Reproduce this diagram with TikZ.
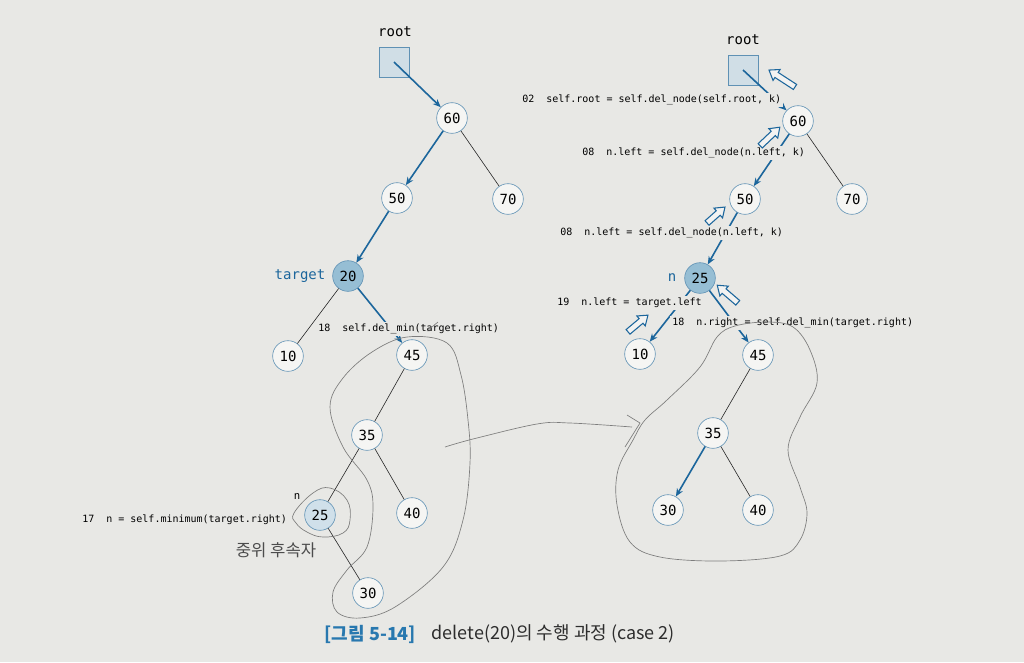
\documentclass[tikz,border=0pt]{standalone}
\usepackage{fontspec}
\setmainfont{Noto Sans CJK KR}
\setmonofont{DejaVu Sans Mono}
\newfontfamily\krfont{Noto Sans CJK KR}
\usetikzlibrary{arrows.meta}

\definecolor{paper}{RGB}{232,232,229}
\definecolor{lineblue}{RGB}{28,102,156}
\definecolor{rimblue}{RGB}{95,145,180}
\definecolor{darkfill}{RGB}{150,190,212}
\definecolor{lightfill}{RGB}{208,224,234}
\definecolor{boxfill}{RGB}{208,222,230}
\definecolor{pencil}{RGB}{125,125,125}
\definecolor{captext}{RGB}{45,45,45}
\definecolor{capblue}{RGB}{40,120,175}

\tikzset{
  bnode/.style={circle, draw=rimblue, fill=white!55!paper, line width=0.45pt,
    minimum size=23pt, inner sep=0pt, font=\ttfamily\fontsize{10.5}{12}\selectfont},
  rootbox/.style={draw=rimblue, fill=boxfill, minimum size=22.5pt, inner sep=0pt, line width=0.5pt},
  code/.style={font=\ttfamily\fontsize{7.5}{9}\selectfont, anchor=west, fill=paper, inner sep=1.5pt},
  tag/.style={font=\ttfamily\fontsize{10.5}{12}\selectfont},
  link/.style={line width=0.45pt, black!85},
  walk/.style={lineblue, line width=1.2pt, -{Stealth[length=6pt,width=5pt]}},
  sketch/.style={pencil, line width=0.5pt},
  note/.style={font=\krfont\fontsize{12.5}{14}\selectfont, text=black!70},
  % hollow arrow for a returned value, #1 = length
  uparrow/.pic={
    \draw[lineblue, fill=white!50!paper, line width=0.8pt, line join=miter]
      (-#1/2,-3) -- (#1/2-9,-3) -- (#1/2-9,-6.5) -- (#1/2,0) -- (#1/2-9,6.5)
      -- (#1/2-9,3) -- (-#1/2,3) -- cycle;
  }
}

\begin{document}
\begin{tikzpicture}[x=0.75pt, y=-0.75pt]
  % Paper and frame
  \fill[paper] (0,0) rectangle (1024,662);
  \useasboundingbox (0,0) rectangle (1024,662);

  % ---------- left tree: before deleting ----------
  \node[tag] (lroottxt) at (395,32) {root};
  \node[rootbox] (lroot) at (394,62) {};
  \foreach \name/\x/\y/\val in {l60/452/118/60, l50/397/198/50, l70/508/199/70,
      l10/288/356/10, l45/412/355/45, l35/367/435/35, l40/412/513/40, l30/368/593/30}
    \node[bnode] (\name) at (\x,\y) {\val};
  \node[bnode, fill=darkfill] (l20) at (348,276) {20};
  \node[bnode, fill=lightfill] (l25) at (320,515) {25};

  % search path
  \draw[walk] (lroot.center) -- (l60);
  \draw[walk] (l60) -- (l50);
  \draw[walk] (l50) -- (l20);
  \draw[walk] (l20) -- (l45);
  \foreach \a/\b in {l60/l70, l20/l10, l45/l35, l35/l25, l35/l40, l25/l30}
    \draw[link] (\a) -- (\b);

  % labels
  \node[tag, text=lineblue] (ltarget) at (300,276) {target};
  \node[code] (lc18) at (316,329) {18~~self.del\_min(target.right)};
  \node[code] (lc17) at (80,520) {17~~n = self.minimum(target.right)};
  \node[font=\ttfamily\fontsize{8}{9}\selectfont] (ln) at (297,496) {n};
  \node[note] (lsucc) at (276,550) {중위 후속자};

  % ---------- right tree: after deleting ----------
  \node[tag] (rroottxt) at (743,40) {root};
  \node[rootbox] (rroot) at (743,70) {};
  \foreach \name/\x/\y/\val in {r60/798/121/60, r50/745/199/50, r70/852/199/70,
      r10/640/354/10, r45/758/355/45, r35/713/433/35, r30/668/510/30, r40/758/510/40}
    \node[bnode] (\name) at (\x,\y) {\val};
  \node[bnode, fill=darkfill] (r25) at (700,278) {25};

  % calls going down
  \draw[walk] (rroot.center) -- (r60);
  \draw[walk] (r60) -- (r50);
  \draw[walk] (r50) -- (r25);
  \draw[walk] (r25) -- (r10);
  \draw[walk] (r25) -- (r45);
  \draw[walk] (r35) -- (r30);
  \foreach \a/\b in {r60/r70, r45/r35, r35/r40}
    \draw[link] (\a) -- (\b);

  % code lines
  \node[code] (rc02) at (520,100) {02~~self.root = self.del\_node(self.root, k)};
  \node[code] (rc08a) at (580,153) {08~~n.left = self.del\_node(n.left, k)};
  \node[code] (rc08b) at (558,233) {08~~n.left = self.del\_node(n.left, k)};
  \node[code] (rc19) at (555,303) {19~~n.left = target.left};
  \node[code] (rc18) at (670,323) {18~~n.right = self.del\_min(target.right)};
  \node[tag, text=lineblue] (rn) at (672,278) {n};

  % return values going up
  \pic[rotate=147] (up1) at (782,78.5) {uparrow=31};
  \pic[rotate=43.5] (up2) at (770,136.5) {uparrow=27};
  \pic[rotate=41.6] (up3) at (716,215) {uparrow=24};
  \pic[rotate=40] (up4) at (638,323.5) {uparrow=26};
  \pic[rotate=139.4] (up5) at (727.5,294) {uparrow=27};

  % pencil marks
  \draw[sketch] plot[smooth cycle, tension=0.6] coordinates {(407,337) (447,343) (461,375)
    (468,420) (470,463) (463,520) (443,567) (395,607) (360,618) (337,612) (333,592)
    (347,570) (367,547) (373,507) (367,480) (343,447) (330,407) (343,378) (372,352)};
  \draw[sketch] plot[smooth cycle, tension=0.7] coordinates {(294,513) (313,493) (330,488)
    (347,500) (350,520) (343,533) (323,537) (307,532) (296,523)};
  \draw[sketch] (427,331) -- (438,322);
  \draw[sketch] plot[smooth, tension=0.6] coordinates {(445,447) (473,439) (537,424) (570,423) (632,427)};
  \draw[sketch] (627,415) -- (640,423) -- (625,447);
  \draw[sketch] plot[smooth cycle, tension=0.6] coordinates {(633,440) (645,420) (667,400)
    (700,367) (717,337) (735,326) (767,322) (793,327) (810,350) (817,383) (800,417)
    (788,450) (800,487) (807,513) (800,540) (780,556) (720,561) (660,557) (630,542)
    (617,505) (618,470)};

  % caption
  \node[anchor=west, font=\krfont\bfseries\fontsize{13.5}{15}\selectfont, text=capblue] (figno) at (320,634) {[그림 5-14]};
  \node[anchor=west, font=\krfont\fontsize{13.5}{15}\selectfont, text=captext] (figtitle) at (427,634) {delete(20)의 수행 과정 (case 2)};
\end{tikzpicture}
\end{document}
